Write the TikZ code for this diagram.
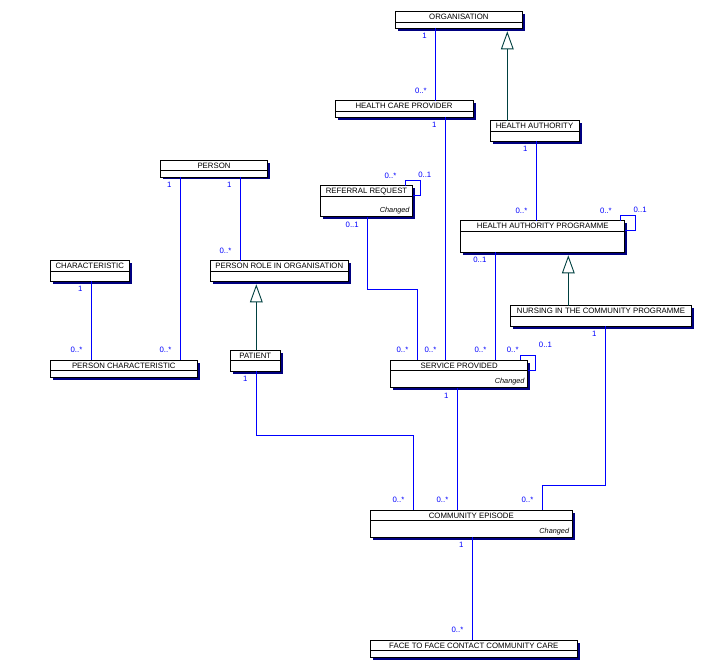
\documentclass[tikz,border=0pt]{standalone}
\usepackage{fontspec}
\newfontfamily\umlfont{Liberation Sans}
\usepackage{xcolor}
\usepackage{tikz}
\usetikzlibrary{arrows.meta, positioning, shadows}
\definecolor{navyshade}{RGB}{0,0,128}
\definecolor{linkblue}{RGB}{0,0,255}
\definecolor{genteal}{RGB}{0,64,64}
\tikzstyle{ctitle} = [rectangle, draw=black, fill=white, line width=0.9pt, inner sep=0pt, outer sep=0pt, minimum height=10.5pt, text height=5.8pt, text depth=0pt, font=\umlfont\fontsize{7.8}{9}\selectfont, drop shadow={shadow xshift=2.5pt, shadow yshift=-2.5pt, fill=navyshade, opacity=1}]
\tikzstyle{cbody} = [rectangle, draw=black, fill=white, line width=0.9pt, inner sep=0pt, outer sep=0pt, drop shadow={shadow xshift=2.5pt, shadow yshift=-2.5pt, fill=navyshade, opacity=1}]
\tikzstyle{changed} = [anchor=south east, inner xsep=3pt, inner ysep=2pt, font=\umlfont\itshape\fontsize{7.3}{8}\selectfont]
\tikzstyle{assoc} = [draw=linkblue, line width=0.9pt]
\tikzstyle{gen} = [draw=genteal, line width=0.9pt, shorten >=3pt, -{Triangle[open, length=18pt, width=12.7pt]}]
\tikzstyle{mult} = [text=linkblue, inner sep=1pt, font=\umlfont\fontsize{7.8}{9}\selectfont]
\tikzstyle{multtop} = [mult, anchor=north east, xshift=-7.5pt, yshift=-3.5pt]
\tikzstyle{multbot} = [mult, anchor=south east, xshift=-7.5pt, yshift=6pt]
\begin{document}
\begin{tikzpicture}[x=1pt, y=-1pt]
    \useasboundingbox (0,0) rectangle (705,671);

    \node[ctitle, minimum width=126.3pt, anchor=north west] (org) at (395.7,11.7) {ORGANISATION};
    \node[cbody, minimum width=126.3pt, minimum height=6.1pt, below=0pt of org] (orgb) {};
    \node[ctitle, minimum width=138pt, anchor=north west] (hcp) at (335,100.7) {HEALTH CARE PROVIDER};
    \node[cbody, minimum width=138pt, minimum height=6.1pt, below=0pt of hcp] (hcpb) {};
    \node[ctitle, minimum width=89pt, anchor=north west] (ha) at (490,120.7) {HEALTH AUTHORITY};
    \node[cbody, minimum width=89pt, minimum height=10.1pt, below=0pt of ha] (hab) {};
    \node[ctitle, minimum width=92.4pt, anchor=north west] (rr) at (320.3,185.7) {REFERRAL REQUEST};
    \node[cbody, minimum width=92.4pt, minimum height=20.5pt, below=0pt of rr] (rrb) {};
    \node[ctitle, minimum width=164pt, anchor=north west] (hap) at (460.7,220.7) {HEALTH AUTHORITY PROGRAMME};
    \node[cbody, minimum width=164pt, minimum height=21.1pt, below=0pt of hap] (hapb) {};
    \node[ctitle, minimum width=180.6pt, anchor=north west] (nicp) at (510.7,305.7) {NURSING IN THE COMMUNITY PROGRAMME};
    \node[cbody, minimum width=180.6pt, minimum height=10.1pt, below=0pt of nicp] (nicpb) {};
    \node[ctitle, minimum width=137pt, anchor=north west] (sp) at (390.7,360.3) {SERVICE PROVIDED};
    \node[cbody, minimum width=137pt, minimum height=16.9pt, below=0pt of sp] (spb) {};
    \node[ctitle, minimum width=107.4pt, anchor=north west] (person) at (160.3,160.3) {PERSON};
    \node[cbody, minimum width=107.4pt, minimum height=6.2pt, below=0pt of person] (personb) {};
    \node[ctitle, minimum width=79pt, anchor=north west] (char) at (50.3,260.7) {CHARACTERISTIC};
    \node[cbody, minimum width=79pt, minimum height=10.1pt, below=0pt of char] (charb) {};
    \node[ctitle, minimum width=147pt, anchor=north west] (pc) at (50.3,360.3) {PERSON CHARACTERISTIC};
    \node[cbody, minimum width=147pt, minimum height=6.9pt, below=0pt of pc] (pcb) {};
    \node[ctitle, minimum width=138pt, anchor=north west] (prio) at (210.3,260.7) {PERSON ROLE IN ORGANISATION};
    \node[cbody, minimum width=138pt, minimum height=10.1pt, below=0pt of prio] (priob) {};
    \node[ctitle, minimum width=50pt, anchor=north west] (patient) at (230.3,350.3) {PATIENT};
    \node[cbody, minimum width=50pt, minimum height=10.5pt, below=0pt of patient] (patientb) {};
    \node[ctitle, minimum width=202pt, anchor=north west] (ce) at (370.3,510.3) {COMMUNITY EPISODE};
    \node[cbody, minimum width=202pt, minimum height=16.5pt, below=0pt of ce] (ceb) {};
    \node[ctitle, minimum width=207pt, anchor=north west] (ftf) at (370.3,640.3) {FACE TO FACE CONTACT COMMUNITY CARE};
    \node[cbody, minimum width=207pt, minimum height=6.5pt, below=0pt of ftf] (ftfb) {};

    \node[changed] at (rrb.south east) {Changed};
    \node[changed] at (spb.south east) {Changed};
    \node[changed] at (ceb.south east) {Changed};

    \draw[assoc] ([xshift=40pt]orgb.south west) node[multtop] {1} -- ([xshift=40pt]orgb.south west |- hcp.north) node[multbot] {0..*};
    \draw[assoc] ([xshift=110.3pt]hcpb.south west) node[multtop] {1} -- ([xshift=110.3pt]hcpb.south west |- sp.north) node[multbot] {0..*};
    \draw[assoc] ([xshift=46.3pt]hab.south west) node[multtop] {1} -- ([xshift=46.3pt]hab.south west |- hap.north) node[multbot] {0..*};
    \draw[assoc] ([xshift=47.4pt]rrb.south west) node[multtop] {0..1} -- ++(0,72.6) -| ([xshift=26.6pt]sp.north west) node[multbot] {0..*};
    \draw[assoc] ([xshift=34.6pt]hapb.south west) node[multtop] {0..1} -- ([xshift=34.6pt]hapb.south west |- sp.north) node[multbot] {0..*};
    \draw[assoc] ([xshift=94.6pt]nicpb.south west) node[multtop] {1} -- ++(0,159) -| ([xshift=172pt]ce.north west) node[multbot] {0..*};
    \draw[assoc] ([xshift=66.6pt]spb.south west) node[multtop] {1} -- ([xshift=66.6pt]spb.south west |- ce.north) node[multbot] {0..*};
    \draw[assoc] ([xshift=20pt]personb.south west) node[multtop] {1} -- ([xshift=20pt]personb.south west |- pc.north) node[multbot] {0..*};
    \draw[assoc] ([xshift=80pt]personb.south west) node[multtop] {1} -- ([xshift=80pt]personb.south west |- prio.north) node[multbot] {0..*};
    \draw[assoc] ([xshift=41pt]charb.south west) node[multtop] {1} -- ([xshift=41pt]charb.south west |- pc.north) node[multbot] {0..*};
    \draw[assoc] ([xshift=26pt]patientb.south west) node[multtop] {1} -- ++(0,63.7) -| ([xshift=43pt]ce.north west) node[multbot] {0..*};
    \draw[assoc] ([xshift=102pt]ceb.south west) node[multtop] {1} -- ([xshift=102pt]ceb.south west |- ftf.north) node[multbot] {0..*};

    \draw[assoc] ([xshift=-7.4pt]rr.north east) node[multbot] {0..*} -- ++(0,-5) -- ++(15,0) node[mult, anchor=south west, xshift=-3.5pt, yshift=1.8pt] {0..1} |- ([yshift=-9.3pt]rr.north east);
    \draw[assoc] ([xshift=-4pt]hap.north east) node[multbot] {0..*} -- ++(0,-5.4) -- ++(14.6,0) node[mult, anchor=south west, xshift=-3.1pt, yshift=1.45pt] {0..1} |- ([yshift=-9.6pt]hap.north east);
    \draw[assoc] ([xshift=-7.7pt]sp.north east) node[mult, anchor=south east, yshift=6pt] {0..*} -- ++(0,-4.6) -- ++(15.7,0) node[mult, anchor=south west, xshift=1.8pt, yshift=6.85pt] {0..1} |- ([yshift=-10pt]sp.north east);

    \draw[gen] ([xshift=17.3pt]ha.north west) -- ([xshift=17.3pt]ha.north west |- orgb.south);
    \draw[gen] ([xshift=57.6pt]nicp.north west) -- ([xshift=57.6pt]nicp.north west |- hapb.south);
    \draw[gen] ([xshift=26pt]patient.north west) -- ([xshift=26pt]patient.north west |- priob.south);
\end{tikzpicture}
\end{document}
